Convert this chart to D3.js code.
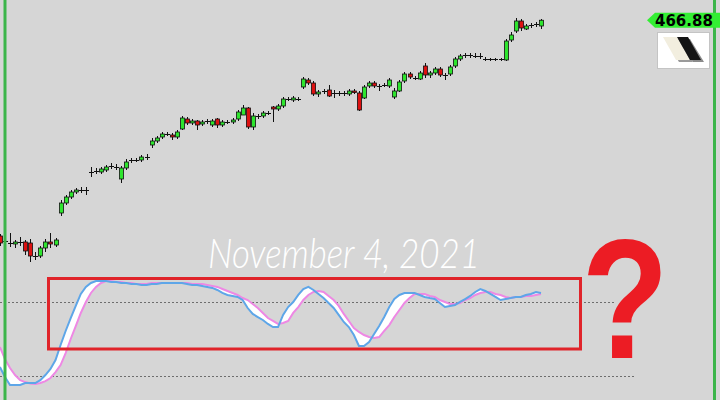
<!DOCTYPE html>
<html><head><meta charset="utf-8">
<script src="https://cdn.jsdelivr.net/npm/d3@7/dist/d3.min.js"></script>
<style>html,body{margin:0;padding:0;background:#d6d6d6;}svg{display:block;}</style>
</head><body>
<svg id="c" width="720" height="400"></svg>
<script>
// ---- Data (daily candles, last = November 4, 2021) ----
const open = [359,356.5,355.5,355,356,356,355.5,349,349,353,
356,354.5,370.5,375.5,378.5,381,382,382,391,391.5,
391,392,394,393.5,387.5,393,397,397,397,398.5,
404.5,406.5,408.5,410,409.5,408.5,412.5,417.5,415.5,416.5,
415,416.5,414.5,417.5,414.5,416,416,417.5,419.5,423,
413.5,419,419,420.5,423.5,422.5,424,427.5,427,427.5,
433.5,437,435.5,430,431.5,432,430.5,430.5,430.5,430,
431.5,430.5,428,434,435.5,434,434.5,434,428.5,431.5,
436.5,440,438,437.5,444,439.5,440.5,442.5,439.5,440,
444,447.5,449.5,449.5,449,449,447.5,447.5,447.5,447.5,
447,457,461.5,466.5,462.5,464.5,465,464];
const close = [355.5,356.5,355.5,356,356,351.5,349,349,353,356,
355,357,375.5,378.5,381,382,382,382,391,391.5,
392.5,393.5,394,393.5,393,396,397,397,398.5,398.5,
406.5,408,410,410,408.5,411,418,415.5,416.5,414.5,
416,416.5,416.5,414.5,416,416,417,421,423,413.5,
419,419,420.5,420.5,422.5,424,427.5,427.5,428,427.5,
437.5,435.5,430,431,431.5,429,430.5,430.5,430.5,431.5,
431,422,433.5,435.5,434,434,434.5,437,431.5,436,
440,438.5,438,440.5,439.5,440.5,442.5,439.5,439.5,443.5,
447.5,449,449.5,449.5,449,449,447.5,447.5,447.5,447.5,
456.5,459.5,466.5,463,464,464.5,465,466.88];
const high = [360,358.5,360.5,357,358.5,357,357.5,351,354,357.5,
360.5,358,377,379.5,382,383,383.5,383.5,393.5,393,
393.5,394.5,395.5,395,394,397.5,398,398,399.5,400,
408,409,411,411,410.5,412,419,418.5,417.5,417,
417,417.5,417.5,418,417,417,418,422,424.5,423.5,
420.5,420,421.5,421.5,424,425,428.5,428.5,429,428.5,
438.5,438,436.5,432,432.5,434.5,432,431.5,431.5,432.5,
432.5,431.5,434.5,436.5,436.5,435,435.5,438,433,437,
441,441,439,441.5,445.5,441.5,443.5,443.5,440.5,444.5,
448.5,450,450.5,450.5,450.5,450.5,448.5,448,448,448,
457.5,461,468,467.5,465,465.5,466,467.5];
const low = [354,355,353.5,353,354,349.5,346,347,348,351,
353,353.5,369,374.5,377.5,380,380.5,379.5,388.5,390,
390,391,392.5,392,385.5,392,395.5,396,396,397,
403,405.5,407.5,409,407,407.5,412,414.5,414.5,412,
414,415,413.5,413,413.5,415,415,416.5,419.5,412.5,
412,417.5,418,419.5,416,421.5,423,426.5,426,426.5,
432.5,434.5,429,428.5,430,428.5,428,429,429,429,
430,421.5,427.5,433,433,431.5,433.5,433,427.5,431,
435.5,437.5,437,437,438,438,439.5,438.5,437,439,
443,446.5,448,448,448,447.5,446.5,446.5,446.5,446.5,
446.5,456,460.5,461.5,462,463,463.5,462.5];
// Stochastic %K (blue) and %D (pink)
const stochK = [27.3,19.2,12.7,12.7,12.7,14.3,14.3,14.3,16.7,20.8,
25.7,33.0,45.1,56.5,67.0,76.8,86.5,92.2,95.4,97.0,
97.0,97.0,96.2,96.2,95.4,95.4,94.6,94.6,93.8,93.8,
94.6,94.6,95.4,95.4,95.4,95.4,95.4,94.6,93.8,93.8,
93.0,92.2,91.4,89.7,87.3,85.7,84.9,84.1,81.6,75.1,
70.3,67.8,65.4,62.2,59.7,59.7,69.5,75.9,80.0,85.7,
90.5,92.2,89.7,86.5,83.2,79.2,75.1,69.5,63.8,59.7,
53.2,44.3,44.3,47.6,54.0,60.5,67.8,75.9,82.4,85.7,
87.3,87.3,87.3,85.7,84.1,83.2,82.4,79.2,75.9,76.8,
77.6,80.0,82.4,84.9,88.1,90.5,88.9,86.5,84.1,81.6,
82.4,83.2,84.1,84.1,85.7,86.5,88.1,87.3];
const stochD = [43.5,33.8,26.5,20.8,16.7,15.1,13.9,13.5,14.3,15.9,
18.4,23.2,28.9,38.6,50.0,60.5,71.1,80.0,87.3,92.2,
95.4,97.0,97.0,96.2,96.2,95.4,95.4,94.6,94.6,94.6,
95.4,95.4,95.4,95.4,95.4,95.4,95.4,95.4,94.6,94.6,
94.6,93.8,93.0,92.2,90.5,88.9,87.3,85.7,83.2,81.6,
78.4,75.1,71.1,67.0,64.6,62.2,63.0,64.6,71.1,75.9,
81.6,85.7,88.1,88.9,88.1,84.9,81.6,76.8,70.3,64.6,
58.9,55.7,53.2,51.6,50.8,51.6,56.5,61.3,67.8,73.5,
79.2,83.2,86.5,86.5,86.5,84.9,84.1,81.6,80.0,78.4,
78.4,79.2,81.6,83.2,85.7,87.3,88.1,88.1,86.5,85.7,
84.1,83.2,84.1,84.1,84.9,84.9,85.7,86.5];
const stochLevels = [80, 20];
const lastPrice = 466.88;
const dateLabel = "November 4, 2021";

// ---- Drawing ----
const W = 720, H = 400;
const svg = d3.select("#c");
const n = close.length;
const x = d3.scaleLinear().domain([0, n - 1]).range([-0.1, 541]);
const y = d3.scaleLinear().domain([277, 477]).range([H, 0]);
const ys = d3.scaleLinear().domain([0, 100]).range([400.7, 277.3]);

svg.append("rect").attr("width", W).attr("height", H).attr("fill", "#d6d6d6");

// stochastic levels
const lvlEnd = [615, 636];
svg.append("g").selectAll("line").data(stochLevels).join("line")
  .attr("x1", 0).attr("x2", (d, i) => lvlEnd[i])
  .attr("y1", d => Math.round(ys(d)) + 0.5).attr("y2", d => Math.round(ys(d)) + 0.5)
  .attr("stroke", "#6e6e6e").attr("stroke-width", 1).attr("stroke-dasharray", "2,2");

// stochastic fill and lines
const idx = d3.range(n);
svg.append("path").datum(idx)
  .attr("d", d3.area().x(i => x(i)).y0(i => ys(stochD[i])).y1(i => ys(stochK[i])))
  .attr("fill", "#ffffff");
svg.append("path").datum(idx)
  .attr("d", d3.line().x(i => x(i)).y(i => ys(stochD[i])))
  .attr("fill", "none").attr("stroke", "#ee88e4").attr("stroke-width", 2);
svg.append("path").datum(idx)
  .attr("d", d3.line().x(i => x(i)).y(i => ys(stochK[i])))
  .attr("fill", "none").attr("stroke", "#5ea6e8").attr("stroke-width", 2);

// candles
const cg = svg.append("g");
idx.forEach(i => {
  const cx = Math.round(x(i)) + 0.5;
  cg.append("line").attr("x1", cx).attr("x2", cx)
    .attr("y1", y(high[i])).attr("y2", y(low[i]))
    .attr("stroke", "#111").attr("stroke-width", 1);
  const o = open[i], c = close[i];
  if (o === c) {
    cg.append("line").attr("x1", cx - 2.5).attr("x2", cx + 2.5)
      .attr("y1", Math.round(y(c)) + 0.5).attr("y2", Math.round(y(c)) + 0.5)
      .attr("stroke", "#111").attr("stroke-width", 1);
  } else {
    const top = y(Math.max(o, c)), bot = y(Math.min(o, c));
    cg.append("rect").attr("x", cx - 2).attr("width", 4)
      .attr("y", top).attr("height", Math.max(1.5, bot - top))
      .attr("fill", c > o ? "#2ee52e" : "#dd1111")
      .attr("stroke", "#111").attr("stroke-width", 0.8);
  }
});

// red rectangle
svg.append("rect").attr("x", 48.5).attr("y", 278.5).attr("width", 532).attr("height", 70.5)
  .attr("fill", "none").attr("stroke", "#e0242a").attr("stroke-width", 3);

// date text
svg.append("text").attr("x", 208).attr("y", 268)
  .attr("font-family", "Lato, 'DejaVu Sans', sans-serif").attr("font-weight", 300)
  .attr("font-style", "italic").attr("font-size", 42)
  .attr("fill", "#ffffff").attr("textLength", 272).attr("lengthAdjust", "spacingAndGlyphs")
  .text(dateLabel);

// question mark
svg.append("text").attr("transform", "translate(625,358) scale(0.84,1)")
  .attr("text-anchor", "middle")
  .attr("font-family", "'Liberation Sans', Arial, sans-serif").attr("font-weight", "bold")
  .attr("font-size", 170).attr("fill", "#ec1c24").text("?");

// vertical green lines
svg.append("g").selectAll("line").data([5, 714.5]).join("line")
  .attr("x1", d => d).attr("x2", d => d).attr("y1", 0).attr("y2", H)
  .attr("stroke", "#3cb54a").attr("stroke-width", 3);

// price tag
const py = y(lastPrice);
svg.append("path")
  .attr("d", `M647,${py} L655,${py - 7.5} L720,${py - 7.5} L720,${py + 7.5} L655,${py + 7.5} Z`)
  .attr("fill", "#33ee33");
svg.append("text").attr("x", 655).attr("y", py + 5.5)
  .attr("font-family", "'DejaVu Sans', sans-serif").attr("font-weight", "bold")
  .attr("font-size", 15).attr("fill", "#000").text(lastPrice.toFixed(2));

// logo
const lg = svg.append("g");
lg.append("rect").attr("x", 657.5).attr("y", 32.5).attr("width", 52).attr("height", 36)
  .attr("fill", "#ffffff").attr("stroke", "#c4c4c4");
lg.append("path").attr("d", "M665,39 L679,39 L693,62 L679,62 Z").attr("fill", "#9a9a9a");
lg.append("path").attr("d", "M663,37 L677,37 L690,60 L676,60 Z").attr("fill", "#f2eedf");
lg.append("path").attr("d", "M679,39 L690,39 L704,62 L693,62 Z").attr("fill", "#8a8a8a");
lg.append("path").attr("d", "M677,37 L688,37 L701,60 L690,60 Z").attr("fill", "#141414");
</script>
</body></html>
